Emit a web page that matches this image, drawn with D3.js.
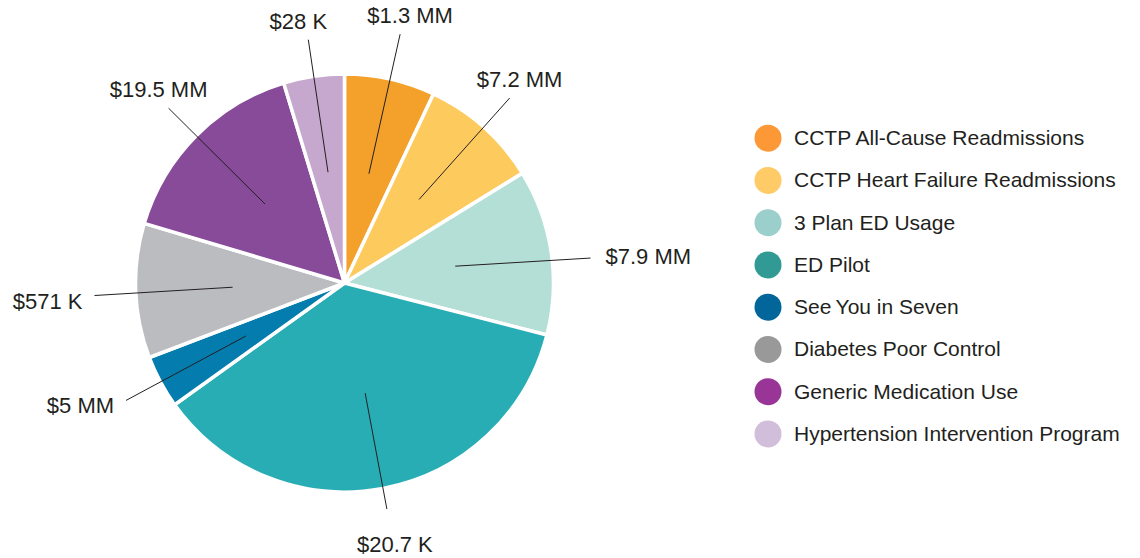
<!DOCTYPE html>
<html>
<head>
<meta charset="utf-8">
<script src="https://cdn.jsdelivr.net/npm/d3@7/dist/d3.min.js"></script>
<style>
  body { margin: 0; background: #fff; }
  text { font-family: "Liberation Sans", Arial, sans-serif; fill: #231f20; }
</style>
</head>
<body>
<script>
const w = 1140;
const h = 558;

// slice shares (percent of the pie)
const programs = [
    "CCTP All-Cause Readmissions",
    "CCTP Heart Failure Readmissions",
    "3 Plan ED Usage",
    "ED Pilot",
    "See\u2009You in Seven",
    "Diabetes Poor Control",
    "Generic Medication Use",
    "Hypertension Intervention Program"
];
const shares = [7.0, 9.2, 12.8, 36.1, 4.1, 10.4, 15.7, 4.7];
const valueLabels = ["$1.3 MM", "$7.2 MM", "$7.9 MM", "$20.7 K", "$5 MM", "$571 K", "$19.5 MM", "$28 K"];

const sliceColors = ["#f3a12b", "#fdca5e", "#b4dfd7", "#28adb5", "#047dae", "#bbbcc0", "#884b9a", "#c6a8ce"];
const legendColors = ["#fd9837", "#fecb66", "#9bcfcc", "#329a95", "#03669a", "#999999", "#983597", "#d1bedb"];

const cx = 344.5;
const cy = 283;
const radius = 209;
const innerLeader = 112;

const svg = d3.select("body").append("svg").attr("width", w).attr("height", h);

const pie = d3.pie().sort(null).value(function (d) { return d; });
const arcs = pie(shares);

const arc = d3.arc().innerRadius(0).outerRadius(radius);
const leaderArc = d3.arc().innerRadius(innerLeader).outerRadius(innerLeader);

const g = svg.append("g").attr("transform", "translate(" + cx + "," + cy + ")");

g.selectAll("path.slice")
    .data(arcs)
    .enter()
    .append("path")
    .attr("class", "slice")
    .attr("d", arc)
    .attr("fill", function (d, i) { return sliceColors[i]; })
    .attr("stroke", "#fff")
    .attr("stroke-width", 3.5)
    .attr("stroke-linejoin", "round");

// leader lines + labels
const leaderLen = [255, 248, 248, 230, 248, 250, 248, 246];

arcs.forEach(function (d, i) {
    const mid = (d.startAngle + d.endAngle) / 2;
    const deg = mid * 180 / Math.PI;
    const start = leaderArc.centroid(d);
    let side;
    if (deg > 60 && deg < 120) side = "right";
    else if (deg >= 120 && deg <= 240) side = "bottom";
    else if (deg > 240 && deg < 300) side = "left";
    else side = "top";

    let end = [Math.sin(mid) * leaderLen[i], -Math.cos(mid) * leaderLen[i]];
    // near-horizontal leaders for the side labels at mid height
    if ((deg > 60 && deg < 120) || (deg > 250 && deg < 300)) {
        const x = side === "right" ? 246 : -250;
        end = [x, start[1] - 0.06 * (x - start[0])];
    }

    g.append("line")
        .attr("x1", start[0]).attr("y1", start[1])
        .attr("x2", end[0]).attr("y2", end[1])
        .attr("stroke", "#231f20")
        .attr("stroke-width", 1);

    const t = g.append("text")
        .attr("font-size", 22)
        .text(valueLabels[i]);
    if (side === "top") {
        t.attr("x", end[0] + (Math.sin(mid) > 0 ? 10 : -10))
            .attr("y", end[1] - 11)
            .attr("text-anchor", "middle");
    } else if (side === "bottom") {
        t.attr("x", end[0] + 8).attr("y", end[1] + 43).attr("text-anchor", "middle");
    } else if (side === "right") {
        t.attr("x", end[0] + 15).attr("y", end[1] + 6).attr("text-anchor", "start");
    } else {
        t.attr("x", end[0] - 12).attr("y", end[1] + 13).attr("text-anchor", "end");
    }
});

// legend
const legendY = d3.scaleBand()
    .domain(d3.range(programs.length))
    .range([117, 455]);

const legend = svg.append("g").attr("transform", "translate(768,0)");

const rows = legend.selectAll("g.row")
    .data(programs)
    .enter()
    .append("g")
    .attr("class", "row")
    .attr("transform", function (d, i) {
        return "translate(0," + (legendY(i) + legendY.bandwidth() / 2) + ")";
    });

rows.append("circle")
    .attr("r", 13.5)
    .attr("fill", function (d, i) { return legendColors[i]; });

rows.append("text")
    .attr("x", 26)
    .attr("y", 7)
    .attr("font-size", 21)
    .text(function (d) { return d; });
</script>
</body>
</html>
